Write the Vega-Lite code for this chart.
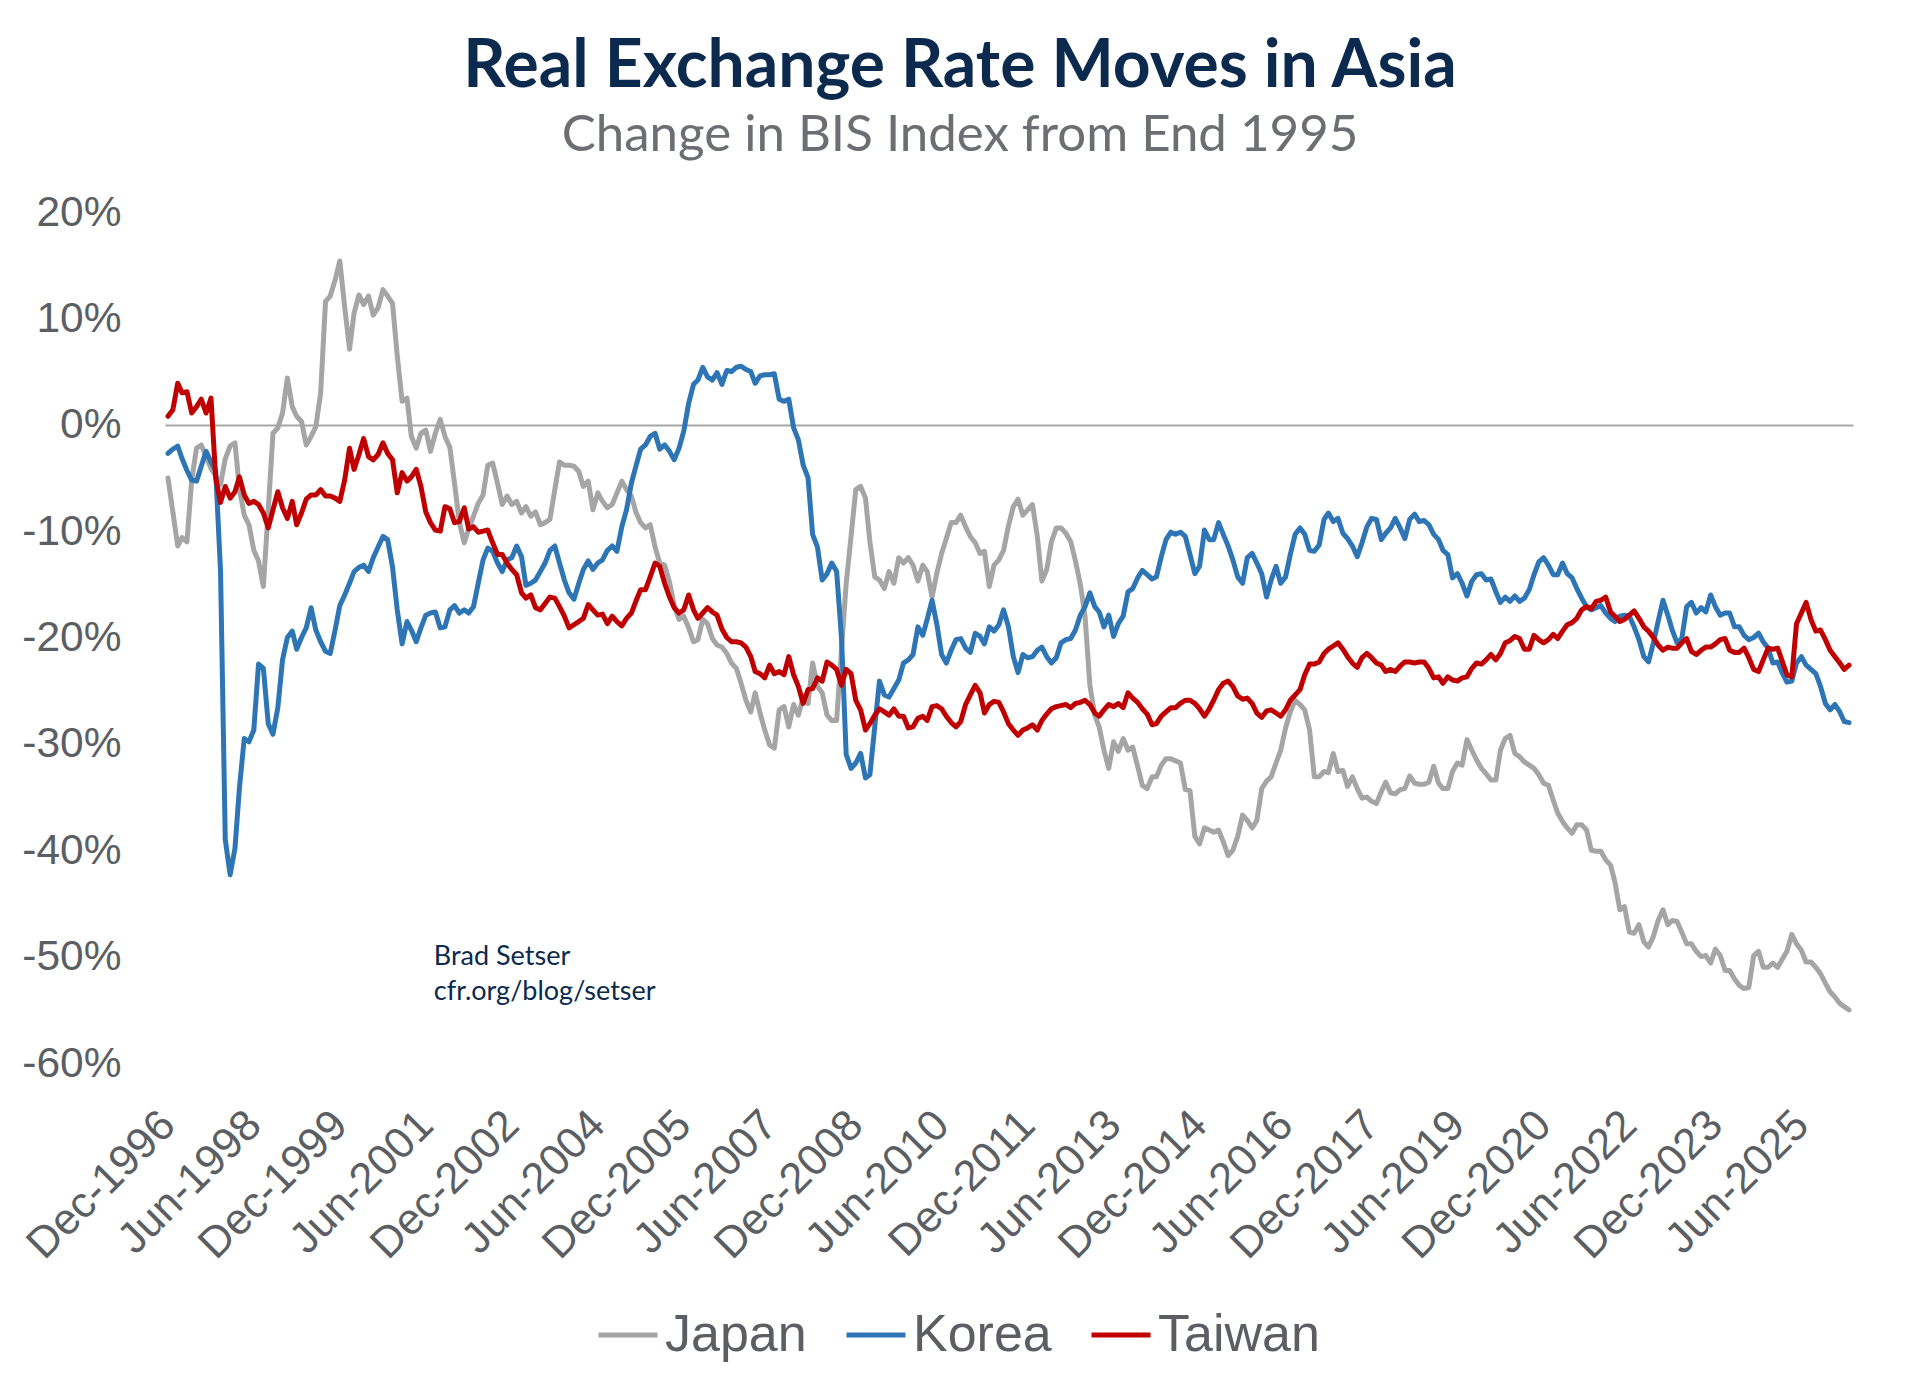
{
  "$schema": "https://vega.github.io/schema/vega-lite/v6.json",
  "width": 1688,
  "height": 851,
  "autosize": {"type": "none"},
  "padding": {"left": 165, "top": 212, "right": 67, "bottom": 330},
  "background": "white",
  "config": {"view": {"stroke": null}},
  "title": {
    "text": "Real Exchange Rate Moves in Asia",
    "subtitle": "Change in BIS Index from End 1995",
    "anchor": "middle",
    "frame": "group",
    "dx": -49,
    "font": "Lato",
    "fontSize": 66,
    "fontWeight": "bold",
    "color": "#0c2a4d",
    "subtitleFont": "Lato",
    "subtitleFontSize": 51,
    "subtitleColor": "#6b6e72",
    "subtitlePadding": 10,
    "offset": 29
  },
  "datasets": {
    "rer": [
      {"d":"1996-12","j":-5.0,"k":-2.7,"t":0.8},
      {"d":"1997-01","j":-8.2,"k":-2.3,"t":1.4},
      {"d":"1997-02","j":-11.4,"k":-2.0,"t":3.9},
      {"d":"1997-03","j":-10.6,"k":-3.2,"t":3.0},
      {"d":"1997-04","j":-11.0,"k":-4.3,"t":3.1},
      {"d":"1997-05","j":-5.2,"k":-5.2,"t":1.1},
      {"d":"1997-06","j":-2.2,"k":-5.3,"t":1.7},
      {"d":"1997-07","j":-1.9,"k":-3.9,"t":2.4},
      {"d":"1997-08","j":-3.0,"k":-2.5,"t":1.1},
      {"d":"1997-09","j":-4.1,"k":-3.5,"t":2.5},
      {"d":"1997-10","j":-4.8,"k":-4.3,"t":-5.0},
      {"d":"1997-11","j":-5.6,"k":-13.8,"t":-7.3},
      {"d":"1997-12","j":-3.2,"k":-39.0,"t":-5.8},
      {"d":"1998-01","j":-2.0,"k":-42.3,"t":-6.9},
      {"d":"1998-02","j":-1.7,"k":-39.8,"t":-6.3},
      {"d":"1998-03","j":-6.0,"k":-34.2,"t":-4.9},
      {"d":"1998-04","j":-8.5,"k":-29.5,"t":-6.6},
      {"d":"1998-05","j":-9.4,"k":-29.8,"t":-7.4},
      {"d":"1998-06","j":-11.8,"k":-28.7,"t":-7.2},
      {"d":"1998-07","j":-12.8,"k":-22.5,"t":-7.5},
      {"d":"1998-08","j":-15.2,"k":-22.9,"t":-8.3},
      {"d":"1998-09","j":-8.0,"k":-28.1,"t":-9.7},
      {"d":"1998-10","j":-0.8,"k":-29.1,"t":-8.0},
      {"d":"1998-11","j":-0.3,"k":-26.6,"t":-6.3},
      {"d":"1998-12","j":1.1,"k":-22.1,"t":-7.8},
      {"d":"1999-01","j":4.4,"k":-20.0,"t":-8.8},
      {"d":"1999-02","j":1.7,"k":-19.4,"t":-7.2},
      {"d":"1999-03","j":0.8,"k":-21.1,"t":-9.4},
      {"d":"1999-04","j":0.3,"k":-20.0,"t":-8.3},
      {"d":"1999-05","j":-1.9,"k":-19.1,"t":-7.0},
      {"d":"1999-06","j":-1.1,"k":-17.2,"t":-6.6},
      {"d":"1999-07","j":-0.2,"k":-19.3,"t":-6.6},
      {"d":"1999-08","j":3.0,"k":-20.4,"t":-6.1},
      {"d":"1999-09","j":11.6,"k":-21.3,"t":-6.7},
      {"d":"1999-10","j":12.1,"k":-21.5,"t":-6.7},
      {"d":"1999-11","j":13.6,"k":-19.3,"t":-6.9},
      {"d":"1999-12","j":15.4,"k":-17.0,"t":-7.2},
      {"d":"2000-01","j":11.1,"k":-16.0,"t":-5.2},
      {"d":"2000-02","j":7.1,"k":-14.9,"t":-2.2},
      {"d":"2000-03","j":10.5,"k":-13.8,"t":-4.2},
      {"d":"2000-04","j":12.2,"k":-13.4,"t":-2.8},
      {"d":"2000-05","j":11.3,"k":-13.2,"t":-1.3},
      {"d":"2000-06","j":12.1,"k":-13.8,"t":-3.0},
      {"d":"2000-07","j":10.3,"k":-12.5,"t":-3.3},
      {"d":"2000-08","j":11.0,"k":-11.5,"t":-2.8},
      {"d":"2000-09","j":12.7,"k":-10.5,"t":-1.7},
      {"d":"2000-10","j":12.1,"k":-10.8,"t":-2.7},
      {"d":"2000-11","j":11.4,"k":-13.4,"t":-3.3},
      {"d":"2000-12","j":6.5,"k":-17.4,"t":-6.4},
      {"d":"2001-01","j":2.2,"k":-20.6,"t":-4.5},
      {"d":"2001-02","j":2.5,"k":-18.5,"t":-5.3},
      {"d":"2001-03","j":-1.1,"k":-19.3,"t":-4.9},
      {"d":"2001-04","j":-2.2,"k":-20.4,"t":-4.2},
      {"d":"2001-05","j":-0.8,"k":-19.1,"t":-5.8},
      {"d":"2001-06","j":-0.5,"k":-17.9,"t":-8.2},
      {"d":"2001-07","j":-2.5,"k":-17.7,"t":-9.2},
      {"d":"2001-08","j":-0.8,"k":-17.6,"t":-9.9},
      {"d":"2001-09","j":0.5,"k":-19.1,"t":-10.0},
      {"d":"2001-10","j":-1.1,"k":-19.0,"t":-7.7},
      {"d":"2001-11","j":-2.1,"k":-17.4,"t":-7.9},
      {"d":"2001-12","j":-5.5,"k":-17.0,"t":-9.2},
      {"d":"2002-01","j":-9.2,"k":-17.7,"t":-9.1},
      {"d":"2002-02","j":-11.1,"k":-17.4,"t":-7.8},
      {"d":"2002-03","j":-9.8,"k":-17.7,"t":-9.8},
      {"d":"2002-04","j":-8.6,"k":-17.1,"t":-9.6},
      {"d":"2002-05","j":-7.4,"k":-14.9,"t":-10.1},
      {"d":"2002-06","j":-6.6,"k":-12.7,"t":-10.0},
      {"d":"2002-07","j":-3.8,"k":-11.6,"t":-9.9},
      {"d":"2002-08","j":-3.6,"k":-11.9,"t":-11.1},
      {"d":"2002-09","j":-5.5,"k":-13.0,"t":-12.2},
      {"d":"2002-10","j":-7.5,"k":-13.8,"t":-12.2},
      {"d":"2002-11","j":-6.7,"k":-12.7,"t":-13.0},
      {"d":"2002-12","j":-7.5,"k":-12.5,"t":-13.6},
      {"d":"2003-01","j":-7.2,"k":-11.4,"t":-14.1},
      {"d":"2003-02","j":-8.3,"k":-12.4,"t":-15.8},
      {"d":"2003-03","j":-7.7,"k":-15.1,"t":-16.3},
      {"d":"2003-04","j":-8.6,"k":-14.9,"t":-16.0},
      {"d":"2003-05","j":-8.2,"k":-14.6,"t":-17.2},
      {"d":"2003-06","j":-9.4,"k":-13.8,"t":-17.4},
      {"d":"2003-07","j":-9.2,"k":-13.0,"t":-16.8},
      {"d":"2003-08","j":-8.9,"k":-11.8,"t":-16.2},
      {"d":"2003-09","j":-6.1,"k":-11.4,"t":-16.3},
      {"d":"2003-10","j":-3.5,"k":-13.0,"t":-17.1},
      {"d":"2003-11","j":-3.8,"k":-14.6,"t":-18.0},
      {"d":"2003-12","j":-3.8,"k":-15.8,"t":-19.1},
      {"d":"2004-01","j":-3.9,"k":-16.4,"t":-18.8},
      {"d":"2004-02","j":-4.4,"k":-14.9,"t":-18.5},
      {"d":"2004-03","j":-5.8,"k":-13.6,"t":-18.2},
      {"d":"2004-04","j":-5.3,"k":-12.8,"t":-16.9},
      {"d":"2004-05","j":-8.0,"k":-13.6,"t":-17.4},
      {"d":"2004-06","j":-6.4,"k":-13.0,"t":-17.9},
      {"d":"2004-07","j":-7.2,"k":-12.7,"t":-17.8},
      {"d":"2004-08","j":-7.8,"k":-11.8,"t":-18.7},
      {"d":"2004-09","j":-7.5,"k":-11.4,"t":-18.0},
      {"d":"2004-10","j":-6.4,"k":-11.9,"t":-18.5},
      {"d":"2004-11","j":-5.3,"k":-9.6,"t":-18.9},
      {"d":"2004-12","j":-6.1,"k":-8.0,"t":-18.2},
      {"d":"2005-01","j":-6.7,"k":-5.5,"t":-17.7},
      {"d":"2005-02","j":-8.3,"k":-3.8,"t":-16.5},
      {"d":"2005-03","j":-9.2,"k":-2.3,"t":-15.5},
      {"d":"2005-04","j":-9.7,"k":-1.9,"t":-15.5},
      {"d":"2005-05","j":-9.4,"k":-1.1,"t":-14.3},
      {"d":"2005-06","j":-11.5,"k":-0.8,"t":-13.0},
      {"d":"2005-07","j":-13.0,"k":-2.3,"t":-13.3},
      {"d":"2005-08","j":-13.2,"k":-1.9,"t":-14.9},
      {"d":"2005-09","j":-14.8,"k":-2.5,"t":-16.2},
      {"d":"2005-10","j":-17.0,"k":-3.3,"t":-17.2},
      {"d":"2005-11","j":-18.3,"k":-2.2,"t":-17.7},
      {"d":"2005-12","j":-18.0,"k":-0.6,"t":-17.4},
      {"d":"2006-01","j":-19.1,"k":2.0,"t":-16.0},
      {"d":"2006-02","j":-20.4,"k":3.8,"t":-17.4},
      {"d":"2006-03","j":-20.2,"k":4.2,"t":-18.2},
      {"d":"2006-04","j":-18.3,"k":5.4,"t":-17.7},
      {"d":"2006-05","j":-18.7,"k":4.5,"t":-17.2},
      {"d":"2006-06","j":-20.1,"k":4.2,"t":-17.6},
      {"d":"2006-07","j":-20.7,"k":4.9,"t":-17.9},
      {"d":"2006-08","j":-20.9,"k":3.8,"t":-19.2},
      {"d":"2006-09","j":-21.5,"k":5.1,"t":-20.0},
      {"d":"2006-10","j":-22.4,"k":5.0,"t":-20.4},
      {"d":"2006-11","j":-22.9,"k":5.4,"t":-20.4},
      {"d":"2006-12","j":-24.3,"k":5.5,"t":-20.5},
      {"d":"2007-01","j":-25.9,"k":5.2,"t":-20.9},
      {"d":"2007-02","j":-27.0,"k":5.0,"t":-21.8},
      {"d":"2007-03","j":-25.2,"k":3.9,"t":-23.2},
      {"d":"2007-04","j":-27.1,"k":4.6,"t":-23.4},
      {"d":"2007-05","j":-28.7,"k":4.7,"t":-23.8},
      {"d":"2007-06","j":-30.1,"k":4.7,"t":-22.6},
      {"d":"2007-07","j":-30.4,"k":4.8,"t":-23.4},
      {"d":"2007-08","j":-26.8,"k":2.4,"t":-23.2},
      {"d":"2007-09","j":-26.5,"k":2.2,"t":-23.5},
      {"d":"2007-10","j":-28.4,"k":2.4,"t":-21.8},
      {"d":"2007-11","j":-26.3,"k":-0.3,"t":-23.5},
      {"d":"2007-12","j":-27.3,"k":-1.4,"t":-24.6},
      {"d":"2008-01","j":-25.6,"k":-3.8,"t":-26.2},
      {"d":"2008-02","j":-26.2,"k":-5.0,"t":-24.9},
      {"d":"2008-03","j":-22.4,"k":-10.3,"t":-24.8},
      {"d":"2008-04","j":-24.6,"k":-11.5,"t":-23.8},
      {"d":"2008-05","j":-25.2,"k":-14.6,"t":-24.1},
      {"d":"2008-06","j":-27.3,"k":-14.0,"t":-22.3},
      {"d":"2008-07","j":-27.8,"k":-13.0,"t":-22.6},
      {"d":"2008-08","j":-27.8,"k":-13.8,"t":-23.0},
      {"d":"2008-09","j":-21.2,"k":-20.0,"t":-24.5},
      {"d":"2008-10","j":-14.9,"k":-31.0,"t":-23.0},
      {"d":"2008-11","j":-10.5,"k":-32.3,"t":-23.4},
      {"d":"2008-12","j":-6.1,"k":-31.8,"t":-25.9},
      {"d":"2009-01","j":-5.8,"k":-30.9,"t":-26.8},
      {"d":"2009-02","j":-6.9,"k":-33.2,"t":-28.7},
      {"d":"2009-03","j":-11.0,"k":-32.9,"t":-28.1},
      {"d":"2009-04","j":-14.3,"k":-28.4,"t":-27.3},
      {"d":"2009-05","j":-14.6,"k":-24.1,"t":-26.7},
      {"d":"2009-06","j":-15.4,"k":-25.4,"t":-27.0},
      {"d":"2009-07","j":-13.8,"k":-25.6,"t":-27.3},
      {"d":"2009-08","j":-14.9,"k":-24.8,"t":-26.7},
      {"d":"2009-09","j":-12.5,"k":-24.0,"t":-27.4},
      {"d":"2009-10","j":-13.0,"k":-22.4,"t":-27.4},
      {"d":"2009-11","j":-12.5,"k":-22.1,"t":-28.5},
      {"d":"2009-12","j":-13.2,"k":-21.6,"t":-28.4},
      {"d":"2010-01","j":-14.7,"k":-19.0,"t":-27.6},
      {"d":"2010-02","j":-13.2,"k":-19.8,"t":-27.4},
      {"d":"2010-03","j":-13.8,"k":-18.3,"t":-27.8},
      {"d":"2010-04","j":-16.2,"k":-16.5,"t":-26.5},
      {"d":"2010-05","j":-14.0,"k":-18.7,"t":-26.4},
      {"d":"2010-06","j":-12.1,"k":-21.6,"t":-26.7},
      {"d":"2010-07","j":-10.7,"k":-22.4,"t":-27.4},
      {"d":"2010-08","j":-9.2,"k":-21.2,"t":-28.0},
      {"d":"2010-09","j":-9.2,"k":-20.2,"t":-28.4},
      {"d":"2010-10","j":-8.5,"k":-20.1,"t":-27.9},
      {"d":"2010-11","j":-9.6,"k":-21.0,"t":-26.3},
      {"d":"2010-12","j":-10.5,"k":-21.4,"t":-25.4},
      {"d":"2011-01","j":-11.1,"k":-19.6,"t":-24.5},
      {"d":"2011-02","j":-12.1,"k":-19.9,"t":-25.2},
      {"d":"2011-03","j":-11.9,"k":-20.6,"t":-27.1},
      {"d":"2011-04","j":-15.2,"k":-19.0,"t":-26.3},
      {"d":"2011-05","j":-13.2,"k":-19.4,"t":-26.0},
      {"d":"2011-06","j":-12.7,"k":-18.8,"t":-26.1},
      {"d":"2011-07","j":-11.8,"k":-17.4,"t":-27.0},
      {"d":"2011-08","j":-9.5,"k":-19.0,"t":-28.1},
      {"d":"2011-09","j":-7.7,"k":-21.8,"t":-28.7},
      {"d":"2011-10","j":-7.0,"k":-23.3,"t":-29.2},
      {"d":"2011-11","j":-8.5,"k":-21.6,"t":-28.7},
      {"d":"2011-12","j":-8.0,"k":-21.9,"t":-28.5},
      {"d":"2012-01","j":-7.5,"k":-21.8,"t":-28.2},
      {"d":"2012-02","j":-10.5,"k":-21.2,"t":-28.7},
      {"d":"2012-03","j":-14.7,"k":-20.9,"t":-27.8},
      {"d":"2012-04","j":-13.6,"k":-21.8,"t":-27.2},
      {"d":"2012-05","j":-11.0,"k":-22.4,"t":-26.7},
      {"d":"2012-06","j":-9.7,"k":-21.9,"t":-26.5},
      {"d":"2012-07","j":-9.7,"k":-20.5,"t":-26.4},
      {"d":"2012-08","j":-10.2,"k":-20.2,"t":-26.3},
      {"d":"2012-09","j":-11.0,"k":-20.1,"t":-26.6},
      {"d":"2012-10","j":-12.8,"k":-19.3,"t":-26.2},
      {"d":"2012-11","j":-15.0,"k":-17.9,"t":-26.1},
      {"d":"2012-12","j":-18.0,"k":-17.1,"t":-25.9},
      {"d":"2013-01","j":-24.5,"k":-15.8,"t":-26.3},
      {"d":"2013-02","j":-27.3,"k":-17.1,"t":-27.1},
      {"d":"2013-03","j":-28.4,"k":-17.6,"t":-27.4},
      {"d":"2013-04","j":-30.6,"k":-19.0,"t":-26.8},
      {"d":"2013-05","j":-32.3,"k":-17.9,"t":-26.3},
      {"d":"2013-06","j":-29.8,"k":-19.9,"t":-26.5},
      {"d":"2013-07","j":-30.7,"k":-18.7,"t":-26.2},
      {"d":"2013-08","j":-29.5,"k":-18.0,"t":-26.6},
      {"d":"2013-09","j":-30.6,"k":-15.7,"t":-25.2},
      {"d":"2013-10","j":-30.3,"k":-15.4,"t":-25.7},
      {"d":"2013-11","j":-32.1,"k":-14.4,"t":-26.1},
      {"d":"2013-12","j":-33.9,"k":-13.7,"t":-26.7},
      {"d":"2014-01","j":-34.2,"k":-14.1,"t":-27.2},
      {"d":"2014-02","j":-33.1,"k":-14.5,"t":-28.2},
      {"d":"2014-03","j":-33.1,"k":-14.3,"t":-28.1},
      {"d":"2014-04","j":-32.0,"k":-12.4,"t":-27.4},
      {"d":"2014-05","j":-31.4,"k":-10.8,"t":-27.0},
      {"d":"2014-06","j":-31.4,"k":-10.1,"t":-26.6},
      {"d":"2014-07","j":-31.6,"k":-10.3,"t":-26.6},
      {"d":"2014-08","j":-31.8,"k":-10.1,"t":-26.2},
      {"d":"2014-09","j":-34.3,"k":-10.5,"t":-25.9},
      {"d":"2014-10","j":-34.4,"k":-12.2,"t":-25.9},
      {"d":"2014-11","j":-38.7,"k":-14.0,"t":-26.2},
      {"d":"2014-12","j":-39.4,"k":-13.3,"t":-26.7},
      {"d":"2015-01","j":-37.9,"k":-9.9,"t":-27.4},
      {"d":"2015-02","j":-38.1,"k":-10.8,"t":-26.7},
      {"d":"2015-03","j":-38.3,"k":-10.8,"t":-25.9},
      {"d":"2015-04","j":-38.1,"k":-9.2,"t":-24.9},
      {"d":"2015-05","j":-39.2,"k":-10.3,"t":-24.3},
      {"d":"2015-06","j":-40.5,"k":-11.4,"t":-24.1},
      {"d":"2015-07","j":-40.0,"k":-12.7,"t":-24.6},
      {"d":"2015-08","j":-38.7,"k":-14.3,"t":-25.5},
      {"d":"2015-09","j":-36.7,"k":-14.9,"t":-25.8},
      {"d":"2015-10","j":-37.2,"k":-12.5,"t":-25.7},
      {"d":"2015-11","j":-37.9,"k":-12.1,"t":-26.2},
      {"d":"2015-12","j":-37.2,"k":-13.0,"t":-27.1},
      {"d":"2016-01","j":-34.2,"k":-14.0,"t":-27.5},
      {"d":"2016-02","j":-33.5,"k":-16.2,"t":-26.9},
      {"d":"2016-03","j":-33.1,"k":-14.6,"t":-26.8},
      {"d":"2016-04","j":-31.8,"k":-13.3,"t":-27.1},
      {"d":"2016-05","j":-30.6,"k":-14.9,"t":-27.4},
      {"d":"2016-06","j":-28.5,"k":-14.3,"t":-26.8},
      {"d":"2016-07","j":-27.0,"k":-12.2,"t":-25.9},
      {"d":"2016-08","j":-25.9,"k":-10.3,"t":-25.4},
      {"d":"2016-09","j":-26.3,"k":-9.7,"t":-24.9},
      {"d":"2016-10","j":-26.8,"k":-10.3,"t":-23.5},
      {"d":"2016-11","j":-28.7,"k":-11.8,"t":-22.5},
      {"d":"2016-12","j":-33.1,"k":-11.9,"t":-22.5},
      {"d":"2017-01","j":-33.1,"k":-11.3,"t":-22.3},
      {"d":"2017-02","j":-32.6,"k":-8.9,"t":-21.5},
      {"d":"2017-03","j":-32.7,"k":-8.3,"t":-21.1},
      {"d":"2017-04","j":-30.9,"k":-9.1,"t":-20.8},
      {"d":"2017-05","j":-32.6,"k":-8.8,"t":-20.5},
      {"d":"2017-06","j":-32.5,"k":-10.2,"t":-21.1},
      {"d":"2017-07","j":-34.0,"k":-10.7,"t":-21.8},
      {"d":"2017-08","j":-33.1,"k":-11.4,"t":-22.4},
      {"d":"2017-09","j":-34.2,"k":-12.4,"t":-22.8},
      {"d":"2017-10","j":-35.1,"k":-11.1,"t":-21.9},
      {"d":"2017-11","j":-35.0,"k":-9.6,"t":-21.5},
      {"d":"2017-12","j":-35.4,"k":-8.8,"t":-21.9},
      {"d":"2018-01","j":-35.6,"k":-8.9,"t":-22.4},
      {"d":"2018-02","j":-34.5,"k":-10.8,"t":-22.6},
      {"d":"2018-03","j":-33.6,"k":-10.2,"t":-23.2},
      {"d":"2018-04","j":-34.6,"k":-9.7,"t":-23.0},
      {"d":"2018-05","j":-34.7,"k":-8.8,"t":-23.2},
      {"d":"2018-06","j":-34.3,"k":-9.7,"t":-22.7},
      {"d":"2018-07","j":-34.2,"k":-10.7,"t":-22.3},
      {"d":"2018-08","j":-33.0,"k":-8.9,"t":-22.3},
      {"d":"2018-09","j":-33.7,"k":-8.4,"t":-22.4},
      {"d":"2018-10","j":-33.8,"k":-9.1,"t":-22.3},
      {"d":"2018-11","j":-33.8,"k":-9.0,"t":-22.3},
      {"d":"2018-12","j":-33.6,"k":-9.4,"t":-22.9},
      {"d":"2019-01","j":-32.1,"k":-10.3,"t":-23.8},
      {"d":"2019-02","j":-33.7,"k":-10.8,"t":-23.7},
      {"d":"2019-03","j":-34.2,"k":-11.8,"t":-24.3},
      {"d":"2019-04","j":-34.2,"k":-12.2,"t":-23.7},
      {"d":"2019-05","j":-32.6,"k":-14.4,"t":-24.0},
      {"d":"2019-06","j":-31.8,"k":-14.0,"t":-24.1},
      {"d":"2019-07","j":-32.0,"k":-14.9,"t":-23.8},
      {"d":"2019-08","j":-29.6,"k":-16.1,"t":-23.7},
      {"d":"2019-09","j":-30.6,"k":-14.7,"t":-22.9},
      {"d":"2019-10","j":-31.5,"k":-14.1,"t":-22.4},
      {"d":"2019-11","j":-32.3,"k":-14.0,"t":-22.5},
      {"d":"2019-12","j":-32.8,"k":-14.6,"t":-22.1},
      {"d":"2020-01","j":-33.4,"k":-14.5,"t":-21.6},
      {"d":"2020-02","j":-33.4,"k":-15.7,"t":-22.1},
      {"d":"2020-03","j":-30.6,"k":-16.7,"t":-21.5},
      {"d":"2020-04","j":-29.5,"k":-16.2,"t":-20.5},
      {"d":"2020-05","j":-29.2,"k":-16.6,"t":-20.3},
      {"d":"2020-06","j":-30.9,"k":-16.1,"t":-19.9},
      {"d":"2020-07","j":-31.2,"k":-16.6,"t":-20.1},
      {"d":"2020-08","j":-31.7,"k":-16.3,"t":-21.1},
      {"d":"2020-09","j":-32.0,"k":-15.5,"t":-21.1},
      {"d":"2020-10","j":-32.3,"k":-14.1,"t":-19.8},
      {"d":"2020-11","j":-32.9,"k":-12.9,"t":-20.2},
      {"d":"2020-12","j":-33.7,"k":-12.5,"t":-20.5},
      {"d":"2021-01","j":-33.9,"k":-13.2,"t":-20.2},
      {"d":"2021-02","j":-35.3,"k":-14.1,"t":-19.7},
      {"d":"2021-03","j":-36.5,"k":-14.1,"t":-20.1},
      {"d":"2021-04","j":-37.3,"k":-13.0,"t":-19.4},
      {"d":"2021-05","j":-37.9,"k":-14.0,"t":-18.8},
      {"d":"2021-06","j":-38.4,"k":-14.4,"t":-18.6},
      {"d":"2021-07","j":-37.6,"k":-15.4,"t":-18.2},
      {"d":"2021-08","j":-37.6,"k":-16.3,"t":-17.4},
      {"d":"2021-09","j":-38.1,"k":-17.1,"t":-17.1},
      {"d":"2021-10","j":-40.0,"k":-17.4,"t":-17.3},
      {"d":"2021-11","j":-40.1,"k":-17.2,"t":-16.6},
      {"d":"2021-12","j":-40.1,"k":-17.0,"t":-16.5},
      {"d":"2022-01","j":-40.9,"k":-17.7,"t":-16.2},
      {"d":"2022-02","j":-41.4,"k":-18.2,"t":-17.6},
      {"d":"2022-03","j":-43.0,"k":-18.5,"t":-18.0},
      {"d":"2022-04","j":-45.6,"k":-18.0,"t":-18.5},
      {"d":"2022-05","j":-45.3,"k":-17.9,"t":-18.3},
      {"d":"2022-06","j":-47.7,"k":-18.0,"t":-17.9},
      {"d":"2022-07","j":-47.8,"k":-19.0,"t":-17.5},
      {"d":"2022-08","j":-47.0,"k":-20.2,"t":-18.2},
      {"d":"2022-09","j":-48.6,"k":-21.8,"t":-19.0},
      {"d":"2022-10","j":-49.1,"k":-22.3,"t":-19.4},
      {"d":"2022-11","j":-48.1,"k":-20.5,"t":-20.0},
      {"d":"2022-12","j":-46.6,"k":-18.5,"t":-20.7},
      {"d":"2023-01","j":-45.6,"k":-16.5,"t":-21.2},
      {"d":"2023-02","j":-47.0,"k":-17.9,"t":-20.9},
      {"d":"2023-03","j":-46.6,"k":-19.3,"t":-21.0},
      {"d":"2023-04","j":-46.7,"k":-20.5,"t":-21.0},
      {"d":"2023-05","j":-47.7,"k":-20.1,"t":-20.5},
      {"d":"2023-06","j":-48.8,"k":-17.1,"t":-20.1},
      {"d":"2023-07","j":-48.8,"k":-16.7,"t":-21.3},
      {"d":"2023-08","j":-49.5,"k":-17.7,"t":-21.6},
      {"d":"2023-09","j":-50.0,"k":-17.2,"t":-21.2},
      {"d":"2023-10","j":-49.9,"k":-17.6,"t":-20.9},
      {"d":"2023-11","j":-50.6,"k":-16.0,"t":-20.9},
      {"d":"2023-12","j":-49.3,"k":-17.1,"t":-20.6},
      {"d":"2024-01","j":-49.9,"k":-17.9,"t":-20.2},
      {"d":"2024-02","j":-51.3,"k":-17.7,"t":-20.1},
      {"d":"2024-03","j":-51.3,"k":-17.7,"t":-21.2},
      {"d":"2024-04","j":-52.1,"k":-19.0,"t":-21.4},
      {"d":"2024-05","j":-52.7,"k":-19.0,"t":-21.4},
      {"d":"2024-06","j":-53.0,"k":-19.8,"t":-21.0},
      {"d":"2024-07","j":-52.9,"k":-20.2,"t":-21.9},
      {"d":"2024-08","j":-49.9,"k":-20.0,"t":-23.0},
      {"d":"2024-09","j":-49.5,"k":-19.6,"t":-23.2},
      {"d":"2024-10","j":-51.0,"k":-20.4,"t":-22.1},
      {"d":"2024-11","j":-51.0,"k":-21.0,"t":-21.0},
      {"d":"2024-12","j":-50.6,"k":-22.4,"t":-21.1},
      {"d":"2025-01","j":-51.0,"k":-22.3,"t":-21.0},
      {"d":"2025-02","j":-50.2,"k":-23.4,"t":-22.3},
      {"d":"2025-03","j":-49.5,"k":-24.2,"t":-23.5},
      {"d":"2025-04","j":-47.9,"k":-24.1,"t":-23.7},
      {"d":"2025-05","j":-48.8,"k":-22.4,"t":-18.7},
      {"d":"2025-06","j":-49.4,"k":-21.8,"t":-17.7},
      {"d":"2025-07","j":-50.5,"k":-22.6,"t":-16.7},
      {"d":"2025-08","j":-50.5,"k":-23.0,"t":-18.3},
      {"d":"2025-09","j":-51.0,"k":-23.4,"t":-19.4},
      {"d":"2025-10","j":-51.6,"k":-24.6,"t":-19.3},
      {"d":"2025-11","j":-52.5,"k":-26.2,"t":-20.2},
      {"d":"2025-12","j":-53.3,"k":-26.8,"t":-21.2},
      {"d":"2026-01","j":-53.8,"k":-26.3,"t":-21.8},
      {"d":"2026-02","j":-54.4,"k":-27.0,"t":-22.4},
      {"d":"2026-03","j":-54.7,"k":-27.9,"t":-23.0},
      {"d":"2026-04","j":-55.0,"k":-28.0,"t":-22.6}
    ]
  },
  "encoding": {
    "x": {
      "field": "d",
      "type": "temporal",
      "scale": {"type": "utc", "nice": false, "domain": [{"year": 1996, "month": 11, "date": 12, "utc": true}, {"year": 2026, "month": 4, "date": 26, "utc": true}]},
      "axis": {
        "values": [
          {"year": 1996, "month": 12, "date": 1, "utc": true},
          {"year": 1998, "month": 6, "date": 1, "utc": true},
          {"year": 1999, "month": 12, "date": 1, "utc": true},
          {"year": 2001, "month": 6, "date": 1, "utc": true},
          {"year": 2002, "month": 12, "date": 1, "utc": true},
          {"year": 2004, "month": 6, "date": 1, "utc": true},
          {"year": 2005, "month": 12, "date": 1, "utc": true},
          {"year": 2007, "month": 6, "date": 1, "utc": true},
          {"year": 2008, "month": 12, "date": 1, "utc": true},
          {"year": 2010, "month": 6, "date": 1, "utc": true},
          {"year": 2011, "month": 12, "date": 1, "utc": true},
          {"year": 2013, "month": 6, "date": 1, "utc": true},
          {"year": 2014, "month": 12, "date": 1, "utc": true},
          {"year": 2016, "month": 6, "date": 1, "utc": true},
          {"year": 2017, "month": 12, "date": 1, "utc": true},
          {"year": 2019, "month": 6, "date": 1, "utc": true},
          {"year": 2020, "month": 12, "date": 1, "utc": true},
          {"year": 2022, "month": 6, "date": 1, "utc": true},
          {"year": 2023, "month": 12, "date": 1, "utc": true},
          {"year": 2025, "month": 6, "date": 1, "utc": true}
        ],
        "labelExpr": "utcFormat(datum.value, '%b-%Y')",
        "labelAngle": -45,
        "labelAlign": "right",
        "labelBaseline": "middle",
        "labelFont": "Liberation Sans",
        "labelFontSize": 43.5,
        "labelColor": "#5b5f64",
        "labelPadding": 55,
        "labelOffset": 0,
        "labelLimit": 400,
        "labelFlush": false,
        "labelOverlap": false,
        "labelBound": false,
        "ticks": false,
        "domain": false,
        "grid": false,
        "title": null
      }
    },
    "y": {
      "field": "v",
      "type": "quantitative",
      "scale": {"domain": [-60, 20], "nice": false, "zero": false},
      "axis": {
        "values": [-60, -50, -40, -30, -20, -10, 0, 10, 20],
        "labelExpr": "datum.value + '%'",
        "labelFont": "Liberation Sans",
        "labelFontSize": 42.5,
        "labelColor": "#5b5f64",
        "labelPadding": 44,
        "ticks": false,
        "domain": false,
        "grid": true,
        "gridColor": "#a6a6a6",
        "gridWidth": 2,
        "gridOpacity": {"condition": {"test": "datum.value === 0", "value": 1}, "value": 0},
        "title": null
      }
    }
  },
  "layer": [
    {
      "data": {"name": "rer"},
      "transform": [{"fold": ["j", "k", "t"], "as": ["c", "v"]}],
      "mark": {"type": "line", "strokeWidth": 5, "strokeCap": "round", "strokeJoin": "round"},
      "encoding": {
        "color": {
          "field": "c",
          "type": "nominal",
          "scale": {"domain": ["j", "k", "t"], "range": ["#A5A5A5", "#2E75B6", "#C00000"]},
          "legend": {
            "orient": "none",
            "legendX": 431,
            "legendY": 1091,
            "direction": "horizontal",
            "title": null,
            "padding": 0,
            "symbolType": "stroke",
            "symbolSize": 3481,
            "symbolStrokeWidth": 5,
            "labelFont": "Liberation Sans",
            "labelFontSize": 52,
            "labelColor": "#5b5f64",
            "labelOffset": 5,
            "labelLimit": 400,
            "columnPadding": 29,
            "labelExpr": "datum.label == 'j' ? 'Japan' : datum.label == 'k' ? 'Korea' : 'Taiwan'"
          }
        }
      }
    },
    {
      "data": {"values": [
        {"d": "2001-07-22", "v": -50.8, "s": "Brad Setser"},
        {"d": "2001-07-22", "v": -54.1, "s": "cfr.org/blog/setser"}
      ]},
      "mark": {"type": "text", "align": "left", "baseline": "alphabetic", "font": "Lato", "fontSize": 27, "color": "#0c2a4d"},
      "encoding": {
        "text": {"field": "s"}
      }
    }
  ]
}
